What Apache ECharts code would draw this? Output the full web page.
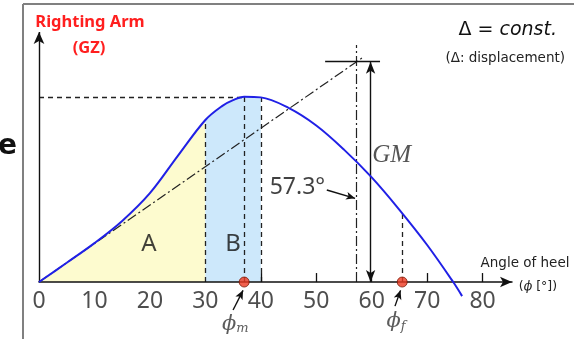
<!DOCTYPE html>
<html>
<head>
<meta charset="utf-8">
<style>
  html, body { margin: 0; padding: 0; background: #fff; }
  #chart { width: 574px; height: 339px; }
</style>
<script src="https://cdn.jsdelivr.net/npm/echarts@6/dist/echarts.min.js"></script>
</head>
<body>
<div id="chart"></div>
<script>
// Static stability: righting arm (GZ) against angle of heel, displacement constant.
const heelAngles  = [0, 5, 10, 15, 20, 25, 30, 33, 35, 37, 40, 45, 50, 55, 60, 65, 70, 74.7, 76.3];
const rightingArm = [0, 0.104, 0.21, 0.33, 0.48, 0.68, 0.875, 0.95, 0.982, 1.0, 0.997, 0.94, 0.845, 0.715, 0.565, 0.39, 0.2, 0, -0.076];
const xTickValues = [0, 10, 20, 30, 40, 50, 60, 70, 80];
const xTickMarks  = [40, 50, 60, 70, 80];
const areaA = [0, 30];
const areaB = [30, 40];
const phiM = 37;          // angle of maximum righting arm
const gzMax = 1.0;
const phiF = 65.5;        // flooding angle
const gzPhiF = 0.375;
const metacentricHeight = 1.19;  // GM
const oneRadian = 57.3;          // degrees in one radian

const INK = '#222';
const SMOOTH = 0.35;
const Y_MIN = -0.3, Y_MAX = 1.35, X_MAX = 85.3;

function curvePairs(lo, hi) {
  return heelAngles
    .map((a, i) => [a, rightingArm[i]])
    .filter(p => p[0] >= lo && p[0] <= hi);
}
function gzAt(a) { return rightingArm[heelAngles.indexOf(a)]; }

function seg(from, to, extraFrom, extraTo) {
  return [Object.assign({ coord: from }, extraFrom || {}), Object.assign({ coord: to }, extraTo || {})];
}

function guideSeries(name, lineStyle, data, z) {
  return {
    name, type: 'line', data: [], silent: true, z: z || 3,
    markLine: {
      silent: true, animation: false,
      symbol: ['none', 'none'],
      label: { show: false },
      emphasis: { disabled: true },
      lineStyle: Object.assign({ color: INK, width: 1.3 }, lineStyle),
      data
    }
  };
}

function areaSeries(range, color) {
  return {
    type: 'line', data: curvePairs(range[0], range[1]), smooth: SMOOTH,
    symbol: 'none', silent: true, z: 1,
    lineStyle: { width: 0 },
    areaStyle: { color, opacity: 1 }
  };
}

const tangentEnd = 58.3;
const arrowHead = { symbol: 'arrow', symbolSize: [7, 12] };
const noHead = { symbol: 'none' };
const smallHead = { symbol: 'arrow', symbolSize: [6, 9] };
const phiRich = {
  p: { fontFamily: 'DejaVu Serif', fontStyle: 'italic', fontSize: 21, color: '#333' },
  s: { fontFamily: 'DejaVu Serif', fontStyle: 'italic', fontSize: 13, color: '#333', padding: [10, 0, 0, 0] }
};

const option = {
  animation: false,
  backgroundColor: '#fff',
  grid: { left: 39, right: 62, top: 32, bottom: 1.4, containLabel: false, outerBoundsMode: 'none' },
  xAxis: {
    type: 'value', min: 0, max: X_MAX, interval: 10, z: 5,
    axisLine: {
      onZero: true, symbol: ['none', 'arrow'], symbolSize: [8, 12],
      lineStyle: { color: '#111', width: 1.5 }
    },
    axisTick: { show: true, inside: true, length: 9, customValues: xTickMarks,
                lineStyle: { color: '#111', width: 1.3 } },
    axisLabel: { show: false },
    splitLine: { show: false }
  },
  yAxis: {
    type: 'value', min: Y_MIN, max: Y_MAX,
    axisLine: { show: false }, axisTick: { show: false },
    axisLabel: { show: false }, splitLine: { show: false }
  },
  series: [
    areaSeries(areaA, '#fdfbcf'),
    areaSeries(areaB, '#cde8fb'),
    // dashed construction lines
    guideSeries('dashed', { type: [5, 4] }, [
      seg([0, gzMax], [phiM, gzMax]),
      seg([areaA[1], 0], [areaA[1], gzAt(areaA[1])]),
      seg([phiM, 0], [phiM, gzMax]),
      seg([areaB[1], 0], [areaB[1], gzAt(areaB[1])]),
      seg([phiF, 0], [phiF, gzPhiF])
    ]),
    // initial-slope tangent and the one-radian ordinate
    guideSeries('dashdot', { type: [10, 3, 2, 3], width: 1.2 }, [
      seg([0, 0], [tangentEnd, metacentricHeight * tangentEnd / oneRadian]),
      seg([oneRadian, 0], [oneRadian, 1.28])
    ]),
    // solid lines: GZ axis, GM bar and arrows
    guideSeries('solid', { type: 'solid', color: '#111', width: 1.4 }, [
      seg([0, 0], [0, Y_MAX], noHead, { symbol: 'arrow', symbolSize: [8, 12] }),
      seg([51.6, metacentricHeight], [61.5, metacentricHeight]),
      seg([59.8, 0], [59.8, metacentricHeight], arrowHead, arrowHead),
      seg([51.9, 0.497], [57.0, 0.452], noHead, smallHead),
      seg([35.0, -0.151], [36.8, -0.045], noHead, smallHead),
      seg([64.2, -0.13], [65.2, -0.045], noHead, smallHead)
    ], 4),
    {
      name: 'GZ', type: 'line', data: curvePairs(-1, 100), smooth: SMOOTH,
      symbol: 'none', z: 6, clip: false,
      lineStyle: { color: '#2020e6', width: 2 }
    },
    {
      type: 'scatter', z: 7, silent: true,
      data: [[phiM, 0], [phiF, 0]],
      symbolSize: 10,
      itemStyle: { color: '#ee3a22', borderColor: '#7a1a08', borderWidth: 1 }
    },
    // tick labels of the heel-angle axis
    {
      type: 'scatter', z: 8, silent: true, symbolSize: 1,
      itemStyle: { color: 'transparent' },
      data: xTickValues.map(v => [v, 0]),
      label: { show: true, position: 'inside', offset: [0, 19], formatter: p => String(p.value[0]),
               fontFamily: 'Noto Sans', fontSize: 23, color: INK }
    },
    {
      type: 'scatter', z: 8, silent: true, symbolSize: 1,
      itemStyle: { color: 'transparent' },
      label: { show: true, position: 'inside', color: '#111', fontFamily: 'Noto Sans', fontSize: 24 },
      data: [
        { value: [19.8, 0.205], label: { formatter: 'A' } },
        { value: [35.0, 0.205], label: { formatter: 'B' } },
        { value: [63.6, 0.686], label: { formatter: 'GM', fontFamily: 'Liberation Serif',
            fontStyle: 'italic', fontSize: 25, color: '#2a2a2a' } },
        { value: [46.6, 0.508], label: { formatter: oneRadian + '°', fontSize: 23, color: '#111' } },
        { value: [35.4, -0.227], label: { formatter: '{p|ϕ}{s|m}', rich: phiRich } },
        { value: [64.4, -0.216], label: { formatter: '{p|ϕ}{s|f}', rich: phiRich } }
      ]
    }
  ],
  graphic: [
    { type: 'line', silent: true, shape: { x1: 23, y1: 4, x2: 574, y2: 4 }, style: { stroke: '#808080', lineWidth: 2 } },
    { type: 'line', silent: true, shape: { x1: 23, y1: 4, x2: 23, y2: 339 }, style: { stroke: '#808080', lineWidth: 2 } },
    { type: 'text', silent: true, x: 17, y: 147, style: { text: 'e', font: 'bold 28px "DejaVu Sans"', fill: '#111',
        align: 'right', verticalAlign: 'middle', textAlign: 'right', textVerticalAlign: 'middle' } },
    { type: 'text', silent: true, x: 90, y: 22, style: { text: 'Righting Arm', font: 'bold 16.5px "Noto Sans"', fill: '#ff1f1f',
        align: 'center', verticalAlign: 'middle', textAlign: 'center', textVerticalAlign: 'middle' } },
    { type: 'text', silent: true, x: 89, y: 48, style: { text: '(GZ)', font: 'bold 16.5px "Noto Sans"', fill: '#ff1f1f',
        align: 'center', verticalAlign: 'middle', textAlign: 'center', textVerticalAlign: 'middle' } },
    { type: 'text', silent: true, x: 557, y: 30, style: { text: '{n|Δ = }{i|const.}',
        rich: { n: { fontFamily: 'DejaVu Sans', fontSize: 19, fill: '#111' },
                i: { fontFamily: 'DejaVu Sans', fontStyle: 'italic', fontSize: 19, fill: '#111' } },
        align: 'right', verticalAlign: 'middle', textAlign: 'right', textVerticalAlign: 'middle' } },
    { type: 'text', silent: true, x: 565, y: 58, style: { text: '(Δ: displacement)', font: '13.5px "DejaVu Sans"', fill: INK,
        align: 'right', verticalAlign: 'middle', textAlign: 'right', textVerticalAlign: 'middle' } },
    { type: 'text', silent: true, x: 525, y: 263, style: { text: 'Angle of heel', font: '13.5px "DejaVu Sans"', fill: INK,
        align: 'center', verticalAlign: 'middle', textAlign: 'center', textVerticalAlign: 'middle' } },
    { type: 'text', silent: true, x: 538, y: 287, style: { text: '({i|ϕ} [°])',
        rich: { i: { fontFamily: 'DejaVu Serif', fontStyle: 'italic', fontSize: 12.5, fill: INK } },
        font: '12.5px "DejaVu Sans"', fill: INK,
        align: 'center', verticalAlign: 'middle', textAlign: 'center', textVerticalAlign: 'middle' } }
  ]
};

const chart = echarts.init(document.getElementById('chart'), null, { renderer: 'canvas' });
chart.setOption(option);
</script>
</body>
</html>
